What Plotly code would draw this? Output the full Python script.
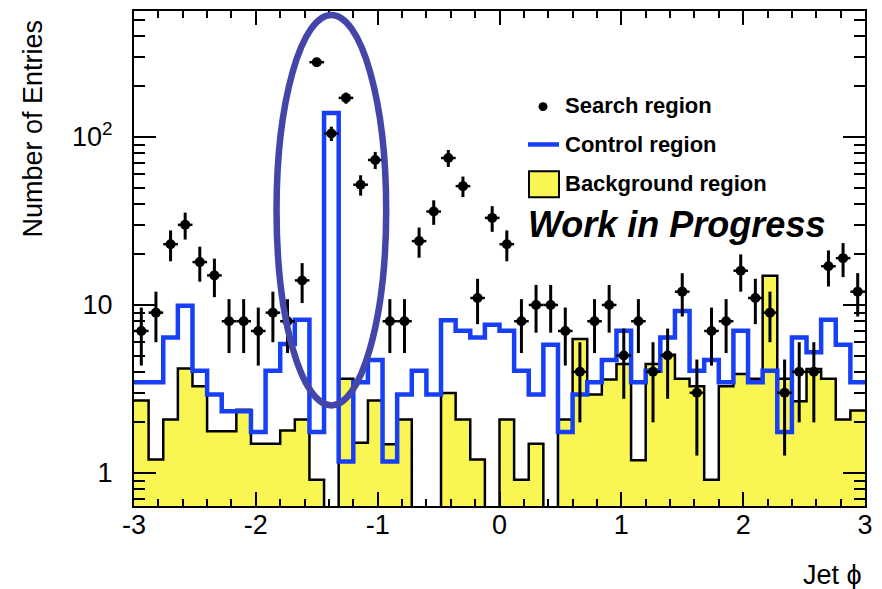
import numpy as np
import plotly.graph_objects as go

# ---- data (50 bins of width 0.12 in Jet phi from -3 to 3) ----
x_min, x_max, n_bins = -3.0, 3.0, 50
search_counts = [7, 9, 23, 30, 18, 15, 8, 8, 7, 9,
                 8, 14, 279, 105, 171, 52, 73, 8, 8, 24,
                 36, 75, 51, 11, 33, 23, 8, 10, 10, 7,
                 4, 8, 10, 5, 8, 4, 5, 12, 3, 7,
                 8, 16, 11, 9, 3, 4, 4, 17, 19, 12]
control_counts = [3.46, 3.46, 6.40, 9.88, 4.06, 2.93, 2.33, 2.33, 1.75, 4.06,
                  5.85, 8.15, 1.75, 138.8, 1.17, 3.46, 4.70, 1.17, 2.93, 4.06,
                  2.93, 8.12, 7.02, 6.40, 7.62, 7.02, 4.06, 2.93, 5.80, 1.75,
                  2.93, 3.46, 4.70, 7.02, 3.46, 4.06, 6.40, 9.22, 4.06, 4.70,
                  3.46, 7.02, 3.46, 4.06, 1.75, 6.40, 5.22, 8.15, 5.80, 3.46]
background_counts = [2.70, 1.20, 2.08, 4.19, 3.28, 1.77, 1.77, 2.38, 1.49, 1.49,
                     1.79, 2.08, 0.91, 0.0, 3.63, 1.51, 2.70, 1.48, 2.08, 0.0,
                     0.0, 2.99, 2.08, 1.20, 0.0, 2.08, 0.91, 1.49, 0.0, 2.08,
                     6.27, 2.93, 3.60, 4.45, 1.19, 4.45, 5.05, 3.63, 3.28, 0.91,
                     3.28, 3.88, 3.63, 14.9, 3.63, 2.67, 4.16, 3.63, 2.08, 2.35]
x_tick_vals = [-3, -2, -1, 0, 1, 2, 3]
x_tick_text = ["-3", "-2", "-1", "0", "1", "2", "3"]
y_tick_vals = [1, 10, 100]
y_tick_text = ["1", "10", "10<sup>2</sup>"]
y_minor_vals = [0.7, 0.8, 0.9, 2, 3, 4, 5, 6, 7, 8, 9,
                20, 30, 40, 50, 60, 70, 80, 90, 200, 300, 400, 500]
y_range = [0.635, 563]

edges = np.linspace(x_min, x_max, n_bins + 1)
centers = 0.5 * (edges[:-1] + edges[1:])
bw = edges[1] - edges[0]

YELLOW = "#f9f552"
BLUE = "#173ff5"
FONT = "Liberation Sans"

def step_y(vals, floor=None):
    v = list(vals)
    if floor is not None:
        v = [max(a, floor) for a in v]
    return v + [v[-1]]

fig = go.Figure()

# background fill
fig.add_trace(go.Bar(x=centers, y=background_counts, width=bw,
                     marker=dict(color=YELLOW, line=dict(width=0)),
                     showlegend=False, hoverinfo="skip"))
# background outline
fig.add_trace(go.Scatter(x=edges, y=step_y(background_counts, floor=0.01),
                         mode="lines", line=dict(color="black", width=2.5, shape="hv"),
                         showlegend=False, hoverinfo="skip"))
# control region
fig.add_trace(go.Scatter(x=edges, y=step_y(control_counts),
                         mode="lines", line=dict(color=BLUE, width=4.5, shape="hv"),
                         showlegend=False, hoverinfo="skip"))
# search region
fig.add_trace(go.Scatter(x=centers, y=search_counts, mode="markers",
                         marker=dict(color="black", size=10),
                         error_y=dict(type="data", array=list(np.sqrt(search_counts)),
                                      color="black", thickness=3, width=0),
                         error_x=dict(type="constant", value=bw / 2,
                                      color="black", thickness=2.5, width=0),
                         showlegend=False))

# plot area geometry in pixels (for annotations/legend placement)
L, R, T, B, W, H = 134, 17, 9, 83, 882, 589
pw, ph = W - L - R, H - T - B
def px(xp):
    return (xp - L) / pw
def py(yp):
    return (H - B - yp) / ph

shapes = []
annotations = []

# highlight ellipse around the peak bin
peak_x = centers[13]
shapes.append(dict(type="circle", xref="x", yref="paper",
                   x0=peak_x - 0.45, x1=peak_x + 0.45, y0=py(405), y1=py(13),
                   line=dict(color="#4346a8", width=6.5), layer="above"))

# manual legend
shapes.append(dict(type="circle", xref="paper", yref="paper",
                   x0=px(538.5), x1=px(547.5), y0=py(109.5), y1=py(100.5),
                   fillcolor="black", line=dict(width=0)))
shapes.append(dict(type="line", xref="paper", yref="paper",
                   x0=px(528), x1=px(559), y0=py(143), y1=py(143),
                   line=dict(color=BLUE, width=4.5)))
shapes.append(dict(type="rect", xref="paper", yref="paper",
                   x0=px(529), x1=px(559), y0=py(196), y1=py(170),
                   fillcolor=YELLOW, line=dict(color="black", width=2)))
for label, yy in [("Search region", 104), ("Control region", 143), ("Background region", 182)]:
    annotations.append(dict(text=label, xref="paper", yref="paper", x=px(563), y=py(yy),
                            xanchor="left", yanchor="middle", showarrow=False,
                            font=dict(family=FONT, size=22, color="black", weight="bold")))
annotations.append(dict(text="Work in Progress", xref="paper", yref="paper",
                        x=px(526), y=py(223), xanchor="left", yanchor="middle",
                        showarrow=False,
                        font=dict(family=FONT, size=36, color="black",
                                  weight="bold", style="italic")))
# axis titles
annotations.append(dict(text="Number of Entries", xref="paper", yref="paper",
                        x=px(33), y=py(127), xanchor="center", yanchor="middle",
                        textangle=-90, showarrow=False,
                        font=dict(family=FONT, size=27, color="black")))
annotations.append(dict(text="Jet ϕ", xref="paper", yref="paper",
                        x=px(864), y=py(575), xanchor="right", yanchor="middle",
                        showarrow=False,
                        font=dict(family=FONT, size=27, color="black")))

fig.update_layout(
    width=W, height=H,
    margin=dict(l=L, r=R, t=T, b=B, pad=0),
    paper_bgcolor="white", plot_bgcolor="white",
    bargap=0, showlegend=False,
    shapes=shapes, annotations=annotations,
    font=dict(family=FONT, color="black"),
)
fig.update_xaxes(range=[x_min, x_max], showgrid=False, zeroline=False,
                 showline=True, linecolor="black", linewidth=2, mirror="allticks",
                 ticks="inside", ticklen=14, tickwidth=1.5, tickcolor="black",
                 tickvals=x_tick_vals, ticktext=x_tick_text,
                 tickfont=dict(family=FONT, size=27, color="black"),
                 ticklabelstandoff=-6,
                 minor=dict(ticks="inside", ticklen=7, dtick=0.2, tick0=-3,
                            tickwidth=1.5, tickcolor="black", showgrid=False))
fig.update_yaxes(type="log", range=[np.log10(y_range[0]), np.log10(y_range[1])],
                 showgrid=False, zeroline=False,
                 showline=True, linecolor="black", linewidth=2, mirror="allticks",
                 ticks="inside", ticklen=22, tickwidth=1.5, tickcolor="black",
                 tickvals=y_tick_vals, ticktext=y_tick_text,
                 tickfont=dict(family=FONT, size=27, color="black"),
                 ticklabelstandoff=14,
                 minor=dict(ticks="inside", ticklen=11, tickvals=y_minor_vals,
                            tickwidth=1.5, tickcolor="black", showgrid=False))

fig.write_html("out.html")
